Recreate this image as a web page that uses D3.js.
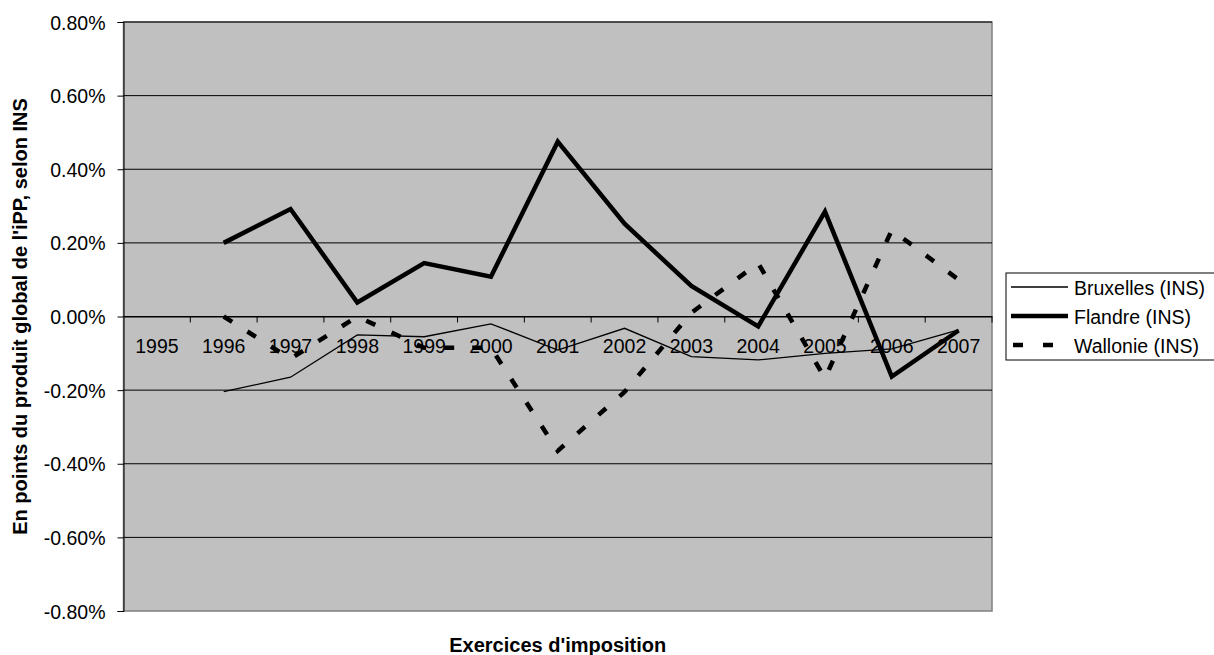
<!DOCTYPE html>
<html>
<head>
<meta charset="utf-8">
<script src="https://cdn.jsdelivr.net/npm/d3@7"></script>
<style>
  body { margin: 0; background: #fff; }
  text { font-family: "Liberation Sans", Arial, sans-serif; }
</style>
</head>
<body>
<svg id="chart" width="1214" height="655"></svg>
<script>
// exercices d'imposition
const years = ["1995", "1996", "1997", "1998", "1999", "2000", "2001", "2002", "2003", "2004", "2005", "2006", "2007"];

// values in %, null = no data
const bruxelles = [null, -0.204, -0.165, -0.050, -0.055, -0.020, -0.091, -0.032, -0.109, -0.118, -0.100, -0.088, -0.036];
const flandre   = [null, 0.200, 0.292, 0.038, 0.145, 0.108, 0.475, 0.252, 0.083, -0.027, 0.285, -0.163, -0.038];
const wallonie  = [null, 0.000, -0.115, 0.000, -0.085, -0.085, -0.365, -0.205, 0.010, 0.145, -0.168, 0.235, 0.100];

const yTicks = [0.8, 0.6, 0.4, 0.2, 0, -0.2, -0.4, -0.6, -0.8];

const series = [
  { name: "Bruxelles (INS)", values: bruxelles, width: 1.3, dash: null },
  { name: "Flandre (INS)", values: flandre, width: 4.5, dash: null },
  { name: "Wallonie (INS)", values: wallonie, width: 4.5, dash: "10,18" }
];

const margin = { top: 22, left: 123.5, right: 222, bottom: 44 };
const W = 1214, H = 655;
const width = W - margin.left - margin.right;
const height = H - margin.top - margin.bottom;
const fs = 19.5;

const svg = d3.select("#chart");
const g = svg.append("g").attr("transform", `translate(${margin.left},${margin.top})`);

const x = d3.scaleBand().domain(years).range([0, width]);
const y = d3.scaleLinear().domain([-0.8, 0.8]).range([height, 0]);

// plot background
g.append("rect")
  .attr("width", width)
  .attr("height", height)
  .attr("fill", "#c0c0c0")
  .attr("stroke", "#808080")
  .attr("stroke-width", 1.5);

// gridlines
g.selectAll(".grid")
  .data(yTicks.filter(d => d !== -0.8))
  .enter().append("line")
  .attr("x1", 0).attr("x2", width)
  .attr("y1", d => y(d)).attr("y2", d => y(d))
  .attr("stroke", "#000")
  .attr("stroke-width", 1);

// y axis
const yAxis = d3.axisLeft(y)
  .tickValues(yTicks)
  .tickSize(6)
  .tickPadding(12)
  .tickFormat(d => (d < 0 ? "-" : "") + Math.abs(d).toFixed(2) + "%");
const ya = g.append("g").call(yAxis);
ya.attr("font-family", null).attr("font-size", null);
ya.select(".domain").attr("stroke", "#000");
ya.selectAll("text").attr("font-size", fs).attr("fill", "#000").attr("dy", "0.36em");

// x axis sits on zero
const xAxis = d3.axisBottom(x).tickSize(0).tickPadding(0);
const xa = g.append("g").attr("transform", `translate(0,${y(0)})`).call(xAxis);
xa.attr("font-family", null).attr("font-size", null);
xa.select(".domain").attr("stroke", "#000");
xa.selectAll("text").attr("font-size", fs).attr("fill", "#000").attr("dy", 0).attr("y", 36.5);
// ticks between categories
g.selectAll(".xt")
  .data(years)
  .enter().append("line")
  .attr("x1", d => x(d) + x.bandwidth())
  .attr("x2", d => x(d) + x.bandwidth())
  .attr("y1", y(0)).attr("y2", y(0) + 6)
  .attr("stroke", "#000");

// lines
const line = d3.line()
  .defined(d => d.v !== null)
  .x(d => x(d.year) + x.bandwidth() / 2)
  .y(d => y(d.v));

series.forEach(s => {
  const pts = years.map((yr, i) => ({ year: yr, v: s.values[i] }));
  g.append("path")
    .datum(pts)
    .attr("d", line)
    .attr("fill", "none")
    .attr("stroke", "#000")
    .attr("stroke-width", s.width)
    .attr("stroke-linejoin", "miter")
    .attr("stroke-dasharray", s.dash);
});

// axis titles
svg.append("text")
  .attr("x", margin.left + width / 2)
  .attr("y", 652)
  .attr("text-anchor", "middle")
  .attr("font-size", 20)
  .attr("font-weight", "bold")
  .text("Exercices d'imposition");

svg.append("text")
  .attr("transform", `translate(26.5,${margin.top + height / 2}) rotate(-90)`)
  .attr("text-anchor", "middle")
  .attr("font-size", 20)
  .attr("font-weight", "bold")
  .text("En points du produit global de l'iPP, selon INS");

// legend
const lg = svg.append("g").attr("transform", "translate(1006,273)");
lg.append("rect")
  .attr("width", 215).attr("height", 87)
  .attr("fill", "#fff").attr("stroke", "#000").attr("stroke-width", 1);
series.forEach((s, i) => {
  const ly = 14 + i * 29;
  lg.append("line")
    .attr("x1", 5).attr("x2", 62)
    .attr("y1", ly).attr("y2", ly)
    .attr("stroke", "#000")
    .attr("stroke-width", s.width)
    .attr("stroke-dasharray", s.dash ? "10,20" : null)
    .attr("stroke-dashoffset", s.dash ? -2 : null);
  lg.append("text")
    .attr("x", 68).attr("y", ly + 8)
    .attr("font-size", fs)
    .text(s.name);
});
</script>
</body>
</html>
